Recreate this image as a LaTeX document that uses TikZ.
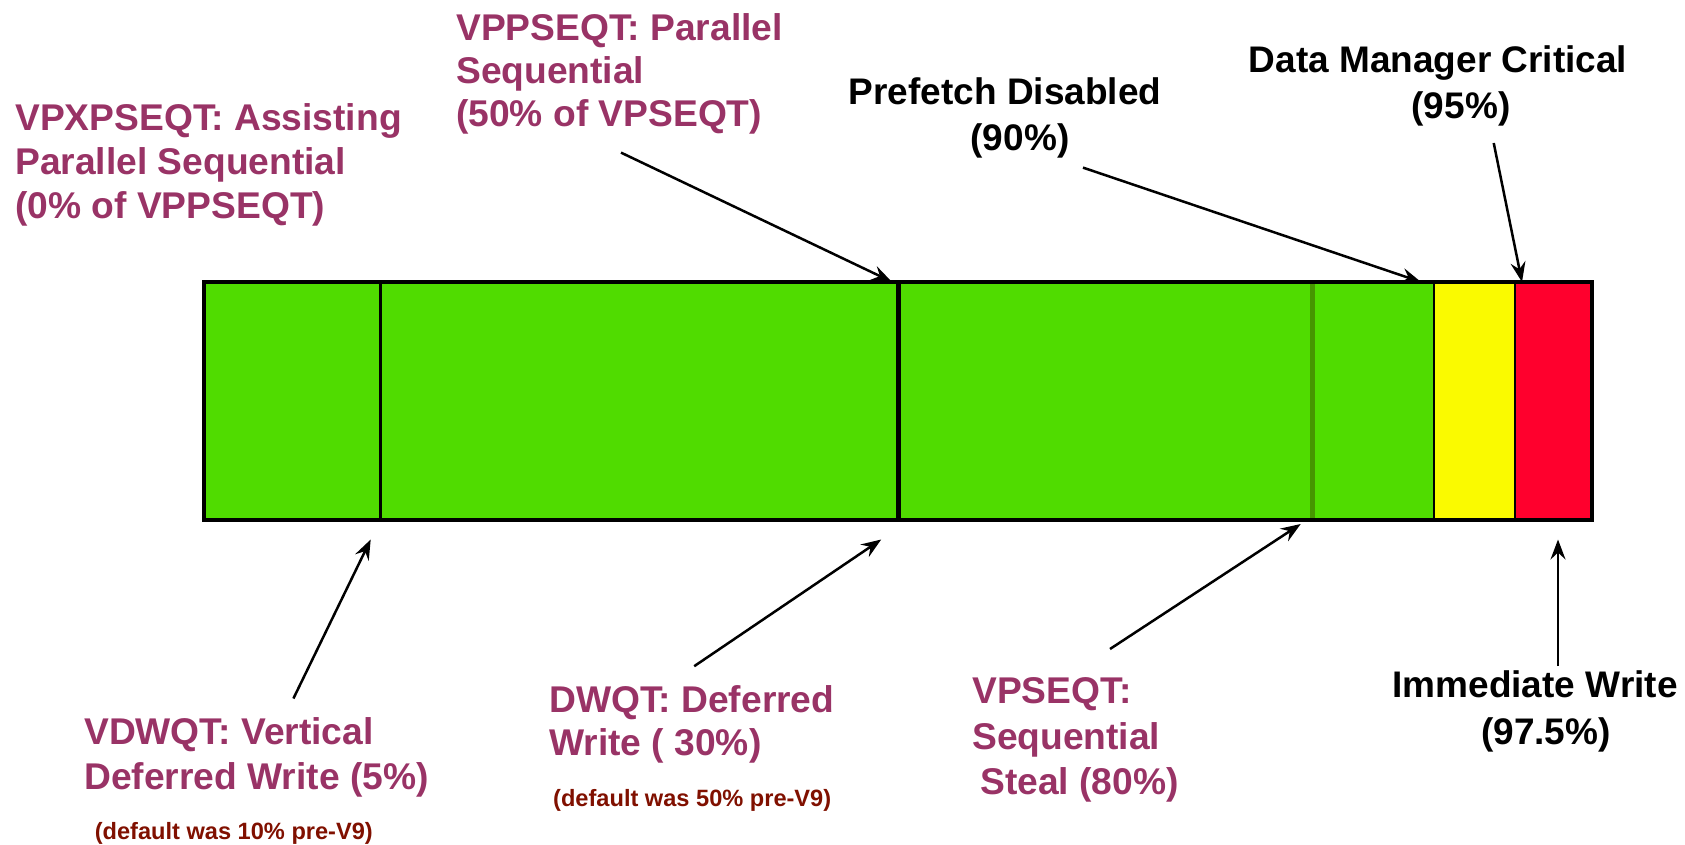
\documentclass[tikz,border=0pt]{standalone}
\usepackage{fontspec}
\setmainfont{Liberation Sans}
\usetikzlibrary{arrows.meta}
\definecolor{plum}{RGB}{153,51,102}
\definecolor{maroonx}{RGB}{128,16,0}
\definecolor{barGreen}{RGB}{80,220,0}
\definecolor{divGreen}{RGB}{70,150,0}
\definecolor{barYellow}{RGB}{250,250,0}
\definecolor{barRed}{RGB}{255,0,45}
\begin{document}
\begin{tikzpicture}[x=1pt,y=-1pt,
  plumtext/.style={text=plum, font=\bfseries\fontsize{37.2}{44}\selectfont, align=left, anchor=west, inner sep=0pt},
  notetext/.style={text=maroonx, font=\bfseries\fontsize{23.6}{28}\selectfont, anchor=west, inner sep=0pt},
  blacktext/.style={text=black, font=\bfseries\fontsize{37}{46}\selectfont, align=center, inner sep=0pt},
  arr/.style={-{Stealth[length=20pt,width=15pt,inset=7pt]}, line width=2.5pt, black}
]
\useasboundingbox (0,0) rectangle (1685,844);

% bar
\fill[barGreen] (204,282) rectangle (1433.5,520);
\fill[barYellow] (1433.5,282) rectangle (1515,520);
\fill[barRed] (1515,282) rectangle (1592,520);
\draw[line width=3pt] (380,282) -- (380,520);
\draw[line width=4.5pt] (898.5,282) -- (898.5,520);
\draw[divGreen, line width=5pt] (1312.5,284) -- (1312.5,518);
\draw[line width=2pt] (1433.5,282) -- (1433.5,520);
\draw[line width=2.5pt] (1515,282) -- (1515,520);
\draw[line width=3.5pt] (204,282) rectangle (1592,520);

% labels
\node[plumtext] (vpx) at (15,165) {VPXPSEQT: Assisting\\Parallel Sequential\\(0\% of VPPSEQT)};
\node[plumtext, font=\bfseries\fontsize{37.2}{43}\selectfont] (vpp) at (456,74) {VPPSEQT: Parallel\\Sequential\\(50\% of VPSEQT)};
\node[plumtext, font=\bfseries\fontsize{37.2}{45}\selectfont] (vdw) at (84,757.5) {VDWQT: Vertical\\Deferred Write (5\%)};
\node[notetext] (vdwn) at (94.6,833) {(default was 10\% pre-V9)};
\node[plumtext, font=\bfseries\fontsize{37.2}{43}\selectfont] (dwq) at (549,724) {DWQT: Deferred\\Write ( 30\%)};
\node[notetext] (dwqn) at (553,800) {(default was 50\% pre-V9)};
\node[plumtext, font=\bfseries\fontsize{37.2}{45.5}\selectfont] (vps) at (972,740) {VPSEQT:\\Sequential\\\hspace*{8pt}Steal (80\%)};
\node[blacktext] (pre) at (1005,118) {Prefetch Disabled\\\hspace*{30pt}(90\%)};
\node[blacktext] (dmc) at (1438,86) {Data Manager Critical\\\hspace*{46pt}(95\%)};
\node[blacktext, font=\bfseries\fontsize{37}{47}\selectfont] (imw) at (1535,711) {Immediate Write\\\hspace*{22pt}(97.5\%)};

% arrow ends
\coordinate (s1) at (621,152.6);   \coordinate (t1) at (891.7,281.7);
\coordinate (s2) at (1083,167.6);  \coordinate (t2) at (1421,282);
\coordinate (s3) at (1493.7,143);  \coordinate (t3) at (1522,282);
\coordinate (s4) at (293.4,698.5); \coordinate (t4) at (370.7,539.5);
\coordinate (s5) at (694.2,666.2); \coordinate (t5) at (881.2,539.5);
\coordinate (s6) at (1110,649);    \coordinate (t6) at (1300.7,524);
\coordinate (s7) at (1558,666);    \coordinate (t7) at (1558,539.5);

\draw[arr] (s1) -- (t1);
\draw[arr] (s2) -- (t2);
\draw[arr] (s3) -- (t3);
\draw[arr] (s4) -- (t4);
\draw[arr] (s5) -- (t5);
\draw[arr] (s6) -- (t6);
\draw[arr] (s7) -- (t7);
\end{tikzpicture}
\end{document}
